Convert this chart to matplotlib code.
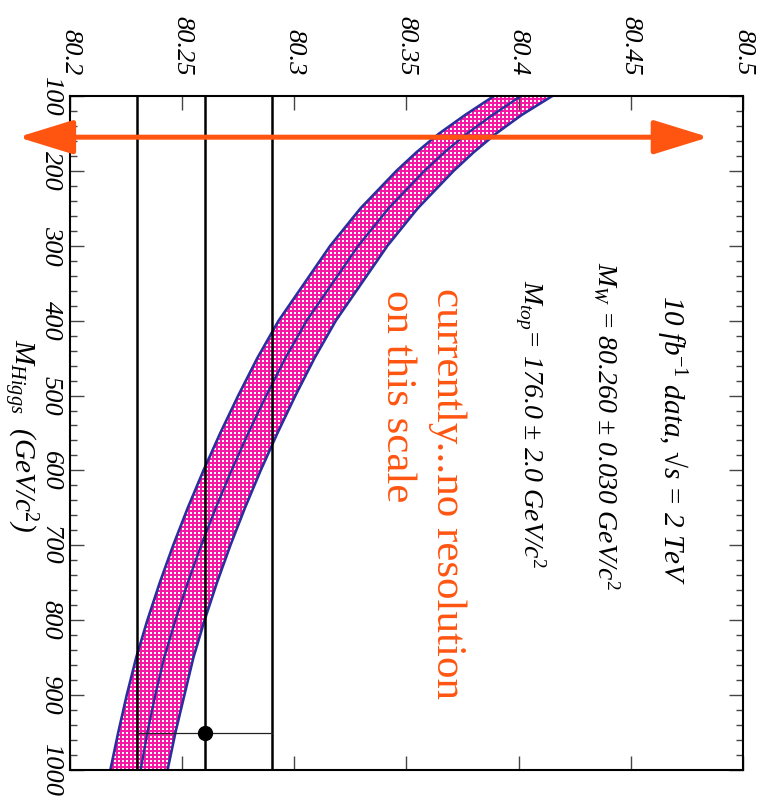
"""M_W vs M_Higgs band, drawn rotated by 90 degrees as in the reference."""

import matplotlib
matplotlib.use("Agg")
import matplotlib.pyplot as plt
import numpy as np

plt.rcParams["font.family"] = ["Liberation Serif", "DejaVu Serif"]
plt.rcParams["mathtext.fontset"] = "custom"
plt.rcParams["mathtext.rm"] = "Liberation Serif"
plt.rcParams["mathtext.it"] = "Liberation Serif:italic"
plt.rcParams["mathtext.default"] = "it"

# Higgs mass (GeV/c^2) and the W mass band
m_higgs = [100, 125, 150, 175, 200, 250, 300, 350, 400, 450, 500, 550, 600,
           650, 700, 750, 800, 850, 900, 950, 1000]
mw_center = [80.4010, 80.3885, 80.3770, 80.3670, 80.3580, 80.3420, 80.3285,
             80.3170, 80.3055, 80.2960, 80.2875, 80.2795, 80.2720, 80.2650,
             80.2585, 80.2525, 80.2470, 80.2420, 80.2380, 80.2345, 80.2315]
mw_low = [80.3890, 80.3763, 80.3646, 80.3545, 80.3455, 80.3295, 80.3160,
          80.3045, 80.2930, 80.2835, 80.2750, 80.2670, 80.2595, 80.2525,
          80.2460, 80.2400, 80.2345, 80.2295, 80.2253, 80.2215, 80.2180]
mw_high = [80.4150, 80.4015, 80.3900, 80.3800, 80.3710, 80.3550, 80.3415,
           80.3300, 80.3185, 80.3090, 80.3005, 80.2925, 80.2850, 80.2780,
           80.2715, 80.2655, 80.2600, 80.2550, 80.2510, 80.2470, 80.2435]

# measured W mass
mw_meas = 80.260
mw_err = 0.030
mh_point = 950

mw_ticks = [80.2, 80.25, 80.3, 80.35, 80.4, 80.45, 80.5]
mw_tick_labels = ["80.2", "80.25", "80.3", "80.35", "80.4", "80.45", "80.5"]
mh_ticks = [100, 200, 300, 400, 500, 600, 700, 800, 900, 1000]
mh_tick_labels = [str(v) for v in mh_ticks]

ORANGE = "#ff5511"
NAVY = "#2b2f9e"

fig = plt.figure(figsize=(7.64, 8.06), dpi=100)
ax = fig.add_axes([0.0916, 0.0447, 0.8809, 0.8362])
ax.set_xlim(80.2, 80.5)

# dotted magenta texture for the band, clipped to the band outline
ny, nx = 337, 337
tex = np.zeros((ny, nx, 4), dtype=np.uint8)
tex[...] = (246, 24, 164, 255)
tex[::2, ::2] = (255, 255, 255, 255)
im = ax.imshow(tex, extent=(80.2, 80.5, 1000, 100), aspect="auto",
               interpolation="nearest", interpolation_stage="rgba",
               resample=False, zorder=1)
band = ax.fill(np.r_[mw_low, mw_high[::-1]], np.r_[m_higgs, m_higgs[::-1]],
               facecolor="none", edgecolor="none", zorder=1)[0]
im.set_clip_path(band)

ax.plot(mw_low, m_higgs, color=NAVY, lw=1.9, zorder=2)
ax.plot(mw_high, m_higgs, color=NAVY, lw=1.9, zorder=2)
ax.plot(mw_center, m_higgs, color=NAVY, lw=1.7, zorder=2)

# measurement lines
for v in (mw_meas - mw_err, mw_meas, mw_meas + mw_err):
    ax.axvline(v, color="black", lw=1.8, zorder=3)
ax.plot([mw_meas - mw_err, mw_meas + mw_err], [mh_point, mh_point],
        color="#222222", lw=0.9, zorder=3)
ax.plot([mw_meas], [mh_point], "o", color="black", ms=10, zorder=4)

ax.set_ylim(1000, 100)

# ticks
ax.set_xticks(mw_ticks, labels=mw_tick_labels)
ax.set_yticks(mh_ticks, labels=mh_tick_labels)
ax.set_yticks(np.arange(100, 1001, 20), minor=True)
ax.tick_params(axis="both", which="both", direction="in", top=True, bottom=True,
               left=True, right=True, labeltop=True, labelbottom=False,
               labelleft=True, labelright=False, color="#444444", width=1)
ax.tick_params(axis="both", which="major", length=10)
ax.tick_params(axis="y", which="minor", length=5)
ax.tick_params(axis="x", which="major", pad=15)
ax.tick_params(axis="y", which="major", pad=6)
for lab in ax.get_xticklabels() + ax.get_yticklabels():
    lab.set_rotation(270)
    lab.set_fontsize(19)
    lab.set_fontfamily("Liberation Serif")
    lab.set_fontstyle("italic")
for lab in ax.get_yticklabels():
    lab.set_verticalalignment("center")
for sp in ax.spines.values():
    sp.set_linewidth(1.5)

# orange double arrow across the plot
ax.annotate("", xy=(80.1768, 155), xytext=(80.4848, 155),
            arrowprops=dict(arrowstyle="<|-|>,head_length=3.4,head_width=1.05",
                            mutation_scale=10, color=ORANGE, lw=3.6,
                            shrinkA=0, shrinkB=0),
            annotation_clip=False, zorder=5)

# texts
serif = "Liberation Serif"
ax.text(80.469, 366, r"10 fb$^{-1}$ data, √s = 2 TeV", rotation=270,
        ha="center", va="top", fontsize=21, fontstyle="italic", fontfamily=serif)
ax.text(80.439, 322, r"$M_W$ = 80.260 ± 0.030 GeV/c$^2$", rotation=270,
        ha="center", va="top", fontsize=20, fontstyle="italic", fontfamily=serif)
ax.text(80.405, 346, r"$M_{top}$= 176.0 ± 2.0 GeV/c$^2$", rotation=270,
        ha="center", va="top", fontsize=20, fontstyle="italic", fontfamily=serif)
ax.text(80.368, 356, "currently...no resolution", rotation=270,
        ha="center", va="top", fontsize=31, color=ORANGE, fontfamily=serif)
ax.text(80.346, 359, "on this scale", rotation=270,
        ha="center", va="top", fontsize=31, color=ORANGE, fontfamily=serif)
ax.text(80.1780, 425, r"$M_{Higgs}$  (GeV/c$^2$)", rotation=270,
        ha="center", va="top", fontsize=21, fontstyle="italic", fontfamily=serif,
        clip_on=False)

fig.savefig("out.png", dpi=100)
plt.close(fig)
